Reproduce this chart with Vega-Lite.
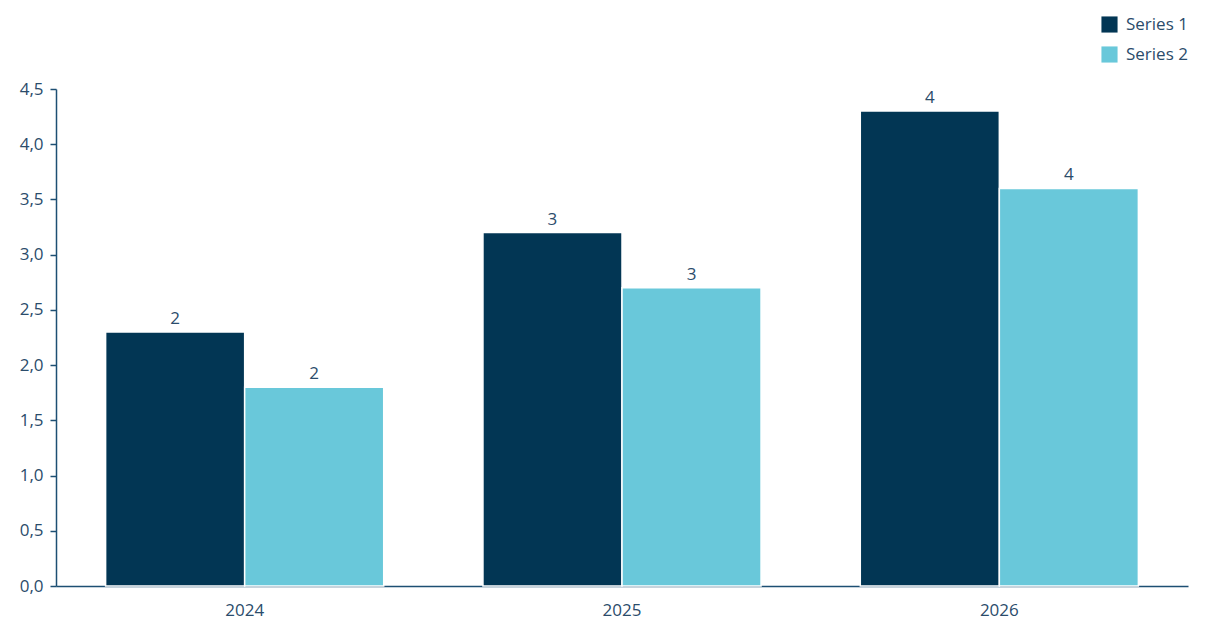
{
  "$schema": "https://vega.github.io/schema/vega-lite/v6.json",
  "autosize": "none",
  "padding": {"left": 56, "top": 89, "right": 17, "bottom": 48},
  "width": 1132,
  "height": 497,
  "data": {
    "values": [
      {"year": "2024", "series": "Series 1", "value": 2.3},
      {"year": "2024", "series": "Series 2", "value": 1.8},
      {"year": "2025", "series": "Series 1", "value": 3.2},
      {"year": "2025", "series": "Series 2", "value": 2.7},
      {"year": "2026", "series": "Series 1", "value": 4.3},
      {"year": "2026", "series": "Series 2", "value": 3.6}
    ]
  },
  "encoding": {
    "x": {
      "field": "year",
      "type": "nominal",
      "title": null,
      "scale": {"paddingInner": 0.263, "paddingOuter": 0.1315},
      "axis": {
        "labelAngle": 0,
        "ticks": false,
        "labelPadding": 16,
        "domainColor": "#1d4f73",
        "domainWidth": 1.5
      }
    },
    "xOffset": {"field": "series", "type": "nominal"},
    "y": {
      "field": "value",
      "type": "quantitative",
      "title": null,
      "scale": {"domain": [0, 4.5]},
      "axis": {
        "values": [0, 0.5, 1, 1.5, 2, 2.5, 3, 3.5, 4, 4.5],
        "labelExpr": "replace(format(datum.value, '.1f'), '.', ',')",
        "grid": false,
        "tickSize": 6,
        "labelPadding": 7,
        "domainColor": "#1d4f73",
        "tickColor": "#1d4f73",
        "domainWidth": 1.5,
        "tickWidth": 1.5
      }
    }
  },
  "layer": [
    {
      "mark": {"type": "bar", "stroke": "white", "strokeWidth": 1.5},
      "encoding": {
        "color": {
          "field": "series",
          "type": "nominal",
          "scale": {"domain": ["Series 1", "Series 2"], "range": ["#023654", "#69c8da"]},
          "legend": {
            "title": null,
            "orient": "none",
            "legendX": 1045,
            "legendY": -73,
            "symbolType": "square",
            "symbolSize": 260,
            "symbolStrokeWidth": 0,
            "labelFontSize": 17,
            "labelOffset": 8,
            "rowPadding": 12
          }
        }
      }
    },
    {
      "mark": {"type": "text", "baseline": "bottom", "dy": -4, "fontSize": 17, "color": "#2b4c6b", "font": "Open Sans"},
      "encoding": {
        "text": {"field": "value", "type": "quantitative", "format": ".0f"}
      }
    }
  ],
  "config": {
    "view": {"stroke": null},
    "font": "Open Sans",
    "axis": {
      "labelFont": "Open Sans",
      "labelFontSize": 17,
      "labelColor": "#2b4c6b"
    },
    "legend": {
      "labelFont": "Open Sans",
      "labelColor": "#2b4c6b"
    }
  }
}
